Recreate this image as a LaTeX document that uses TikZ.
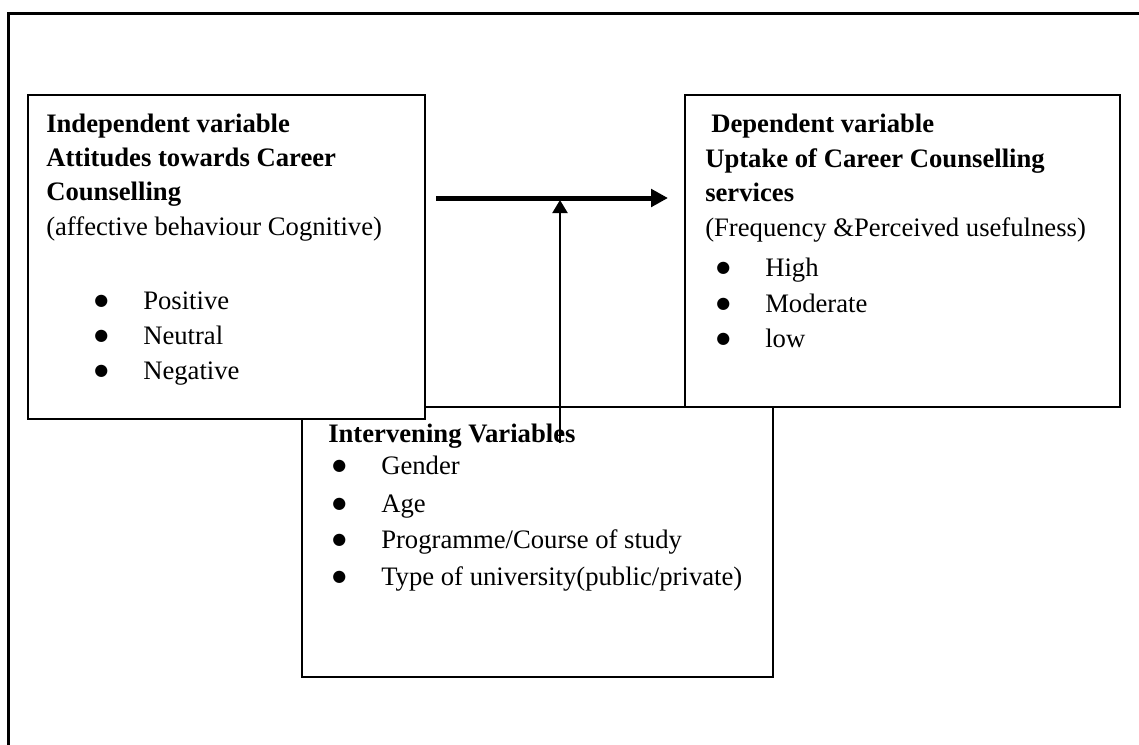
\documentclass[tikz,border=0pt]{standalone}
\usepackage{fontspec}
\setmainfont{Liberation Serif}
\newfontfamily\dejavu{DejaVu Sans}
\usetikzlibrary{arrows.meta}
\newcommand{\bigbul}{\raisebox{3pt}{\dejavu\fontsize{12}{12}\selectfont ●}}
\begin{document}
\begin{tikzpicture}[x=0.75pt,y=-0.75pt,
  font=\fontsize{20}{24}\selectfont,
  box/.style={draw, line width=1.2pt, fill=white, inner sep=0pt, anchor=north west},
  txt/.style={anchor=base west, inner sep=0pt, font=\fontsize{20}{24}\selectfont},
  hd/.style={anchor=base west, inner sep=0pt, font=\fontsize{20}{24}\selectfont\bfseries},
  thick arrow/.style={line width=3.75pt, -{Triangle[length=12.75pt,width=13pt]}},
  thin arrow/.style={line width=1.5pt, -{Triangle[length=9.75pt,width=11.25pt]}}]
\useasboundingbox (0,0) rectangle (1139,744);
% outer frame
\draw[line width=2.25pt] (8,760) -- (8,13) -- (1150,13);
% boxes
\node[box, minimum width=353.25pt, minimum height=202.5pt] (inter) at (301,406) {};
\node[box, minimum width=297.75pt, minimum height=243pt] (indep) at (27,94) {};
\node[box, minimum width=326.25pt, minimum height=234pt] (dep) at (684,94) {};
% independent
\node[hd] (i1) at (46,132) {Independent variable};
\node[hd] (i2) at (46,166) {Attitudes towards Career};
\node[hd] (i3) at (46,200) {Counselling};
\node[txt] (i4) at (46,235) {(affective behaviour Cognitive)};
\node[txt] (ib1) at (94,309) {\bigbul};
\node[txt] (it1) at (143,309) {Positive};
\node[txt] (ib2) at (94,344) {\bigbul};
\node[txt] (it2) at (143,344) {Neutral};
\node[txt] (ib3) at (94,379) {\bigbul};
\node[txt] (it3) at (143,379) {Negative};
% dependent
\node[hd] (d1) at (711,132) {Dependent variable};
\node[hd] (d2) at (705,167) {Uptake of Career Counselling};
\node[hd] (d3) at (705,201) {services};
\node[txt] (d4) at (705,236) {(Frequency \&Perceived usefulness)};
\node[txt] (db1) at (716,276) {\bigbul};
\node[txt] (dt1) at (765,276) {High};
\node[txt] (db2) at (716,312) {\bigbul};
\node[txt] (dt2) at (765,312) {Moderate};
\node[txt] (db3) at (716,347) {\bigbul};
\node[txt] (dt3) at (765,347) {low};
% intervening
\node[hd] (v1) at (328,442) {Intervening Variables};
\node[txt] (vb1) at (332,474) {\bigbul};
\node[txt] (vt1) at (381,474) {Gender};
\node[txt] (vb2) at (332,512) {\bigbul};
\node[txt] (vt2) at (381,512) {Age};
\node[txt] (vb3) at (332,548) {\bigbul};
\node[txt] (vt3) at (381,548) {Programme/Course of study};
\node[txt] (vb4) at (332,585) {\bigbul};
\node[txt] (vt4) at (381,585) {Type of university(public/private)};
% arrows
\coordinate (hs) at (436,198);
\coordinate (he) at (668,198);
\coordinate (vs) at (560,443);
\coordinate (ve) at (560,200);
\draw[thick arrow] (hs) -- (he);
\draw[thin arrow] (vs) -- (ve);
\end{tikzpicture}
\end{document}
